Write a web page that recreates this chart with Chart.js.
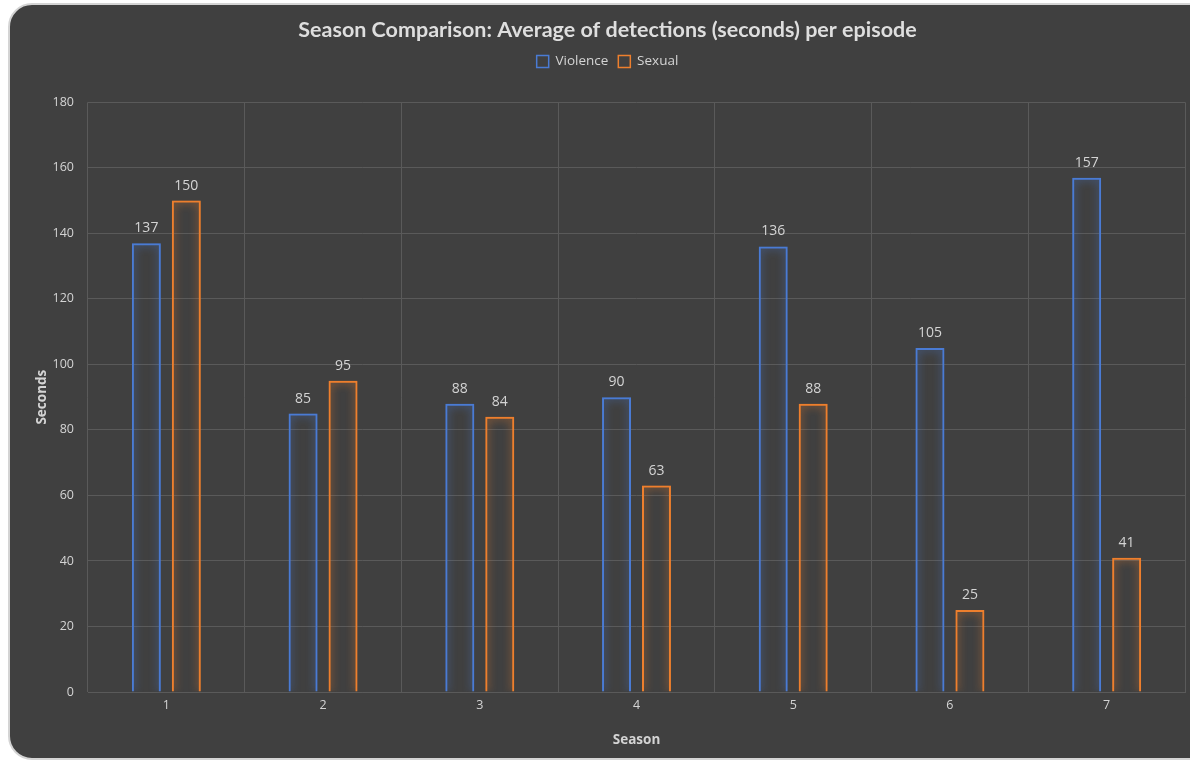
<!DOCTYPE html>
<html>
<head>
<meta charset="utf-8">
<script src="https://cdn.jsdelivr.net/npm/chart.js@4.4.0/dist/chart.umd.min.js"></script>
<style>
  html, body { margin: 0; padding: 0; background: #ffffff; overflow: hidden; }
  #panel {
    position: absolute; left: 8px; top: 3px; width: 1210px; height: 753px;
    background: #404040; border: 2px solid #d4d4d4; border-radius: 24px;
  }
  #wrap { position: absolute; left: 0; top: 0; width: 1190px; height: 760px; }
</style>
</head>
<body>
<div id="panel"></div>
<div id="wrap"><canvas id="myChart" width="1190" height="760"></canvas></div>
<script>
// données
const seasons = ["1", "2", "3", "4", "5", "6", "7"];
const violence = [137, 85, 88, 90, 136, 105, 157];
const sexual = [150, 95, 84, 63, 88, 25, 41];
const yTicks = [0, 20, 40, 60, 80, 100, 120, 140, 160, 180];

const blue = "#4a7bd4";
const orange = "#ee7f2d";
const txt = "#d4d4d4";

// halo lumineux autour des barres
const glowPlugin = {
  id: "glow",
  beforeDatasetDraw(chart, args) {
    const ctx = chart.ctx;
    ctx.save();
    ctx.shadowColor = args.index === 0 ? "rgba(74,123,212,0.9)" : "rgba(238,127,45,0.9)";
    ctx.shadowBlur = 9;
  },
  afterDatasetDraw(chart) {
    chart.ctx.restore();
  },
};

// espace sous la légende
const legendSpace = {
  id: "legendSpace",
  beforeInit(chart) {
    const fit = chart.legend.fit;
    chart.legend.fit = function () {
      fit.bind(chart.legend)();
      this.height += 24;
    };
  },
};

// étiquettes de valeurs au-dessus des barres
const labelPlugin = {
  id: "valueLabels",
  afterDatasetsDraw(chart) {
    const ctx = chart.ctx;
    ctx.save();
    ctx.font = "14px 'Open Sans'";
    ctx.fillStyle = txt;
    ctx.textAlign = "center";
    ctx.textBaseline = "bottom";
    chart.data.datasets.forEach((ds, i) => {
      chart.getDatasetMeta(i).data.forEach((bar, j) => {
        ctx.fillText(ds.data[j], bar.x, bar.y - 8);
      });
    });
    ctx.restore();
  },
};

const ctx = document.getElementById("myChart").getContext("2d");
new Chart(ctx, {
  type: "bar",
  data: {
    labels: seasons,
    datasets: [
      { label: "Violence", data: violence, backgroundColor: "rgba(0,0,0,0)", borderColor: blue, borderWidth: 2 },
      { label: "Sexual", data: sexual, backgroundColor: "rgba(0,0,0,0)", borderColor: orange, borderWidth: 2 },
    ],
  },
  options: {
    responsive: false,
    animation: false,
    categoryPercentage: 0.51,
    barPercentage: 0.725,
    layout: { padding: { left: 30, right: 5, top: 15, bottom: 8 } },
    plugins: {
      title: {
        display: true,
        text: "Season Comparison: Average of detections (seconds) per episode",
        color: "#dedede",
        font: { family: "Lato", size: 21.5, weight: "bold" },
        padding: { top: 2, bottom: 2 },
      },
      legend: {
        display: true,
        labels: {
          color: txt,
          font: { family: "Open Sans", size: 13.5 },
          boxWidth: 12,
          boxHeight: 12,
          padding: 10,
          generateLabels(chart) {
            return chart.data.datasets.map((ds, i) => ({
              text: ds.label,
              fillStyle: "rgba(0,0,0,0)",
              strokeStyle: ds.borderColor,
              lineWidth: 1.5,
              fontColor: txt,
              datasetIndex: i,
            }));
          },
        },
      },
      tooltip: { enabled: false },
    },
    scales: {
      x: {
        grid: { color: "#5a5a5a", offset: true, drawTicks: false },
        border: { color: "#5a5a5a" },
        ticks: { color: txt, font: { family: "Open Sans", size: 12.5 }, padding: 6 },
        title: { display: true, text: "Season", color: txt, font: { family: "Open Sans", size: 13.5, weight: "bold" }, padding: { top: 4 } },
        afterFit(scale) { scale.height = 60; },
      },
      y: {
        min: 0,
        max: 180,
        afterBuildTicks(scale) { scale.ticks = yTicks.map(v => ({ value: v })); },
        grid: { color: "#5a5a5a", drawTicks: false },
        border: { display: false },
        ticks: { color: txt, font: { family: "Open Sans", size: 12.5 }, padding: 14 },
        title: { display: true, text: "Seconds", color: txt, font: { family: "Open Sans", size: 13.5, weight: "bold" } },
        afterFit(scale) { scale.width = 58; },
      },
    },
  },
  plugins: [glowPlugin, legendSpace, labelPlugin],
});
</script>
</body>
</html>
